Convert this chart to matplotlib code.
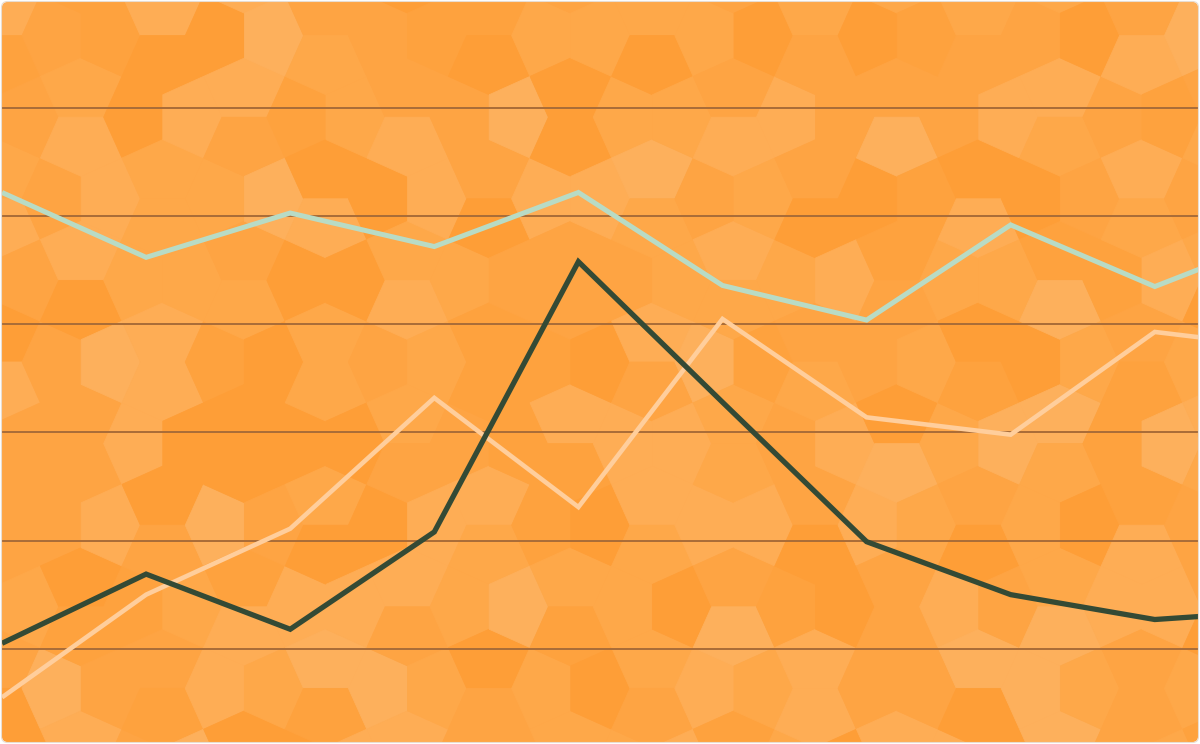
import matplotlib
matplotlib.use("Agg")
import matplotlib.pyplot as plt
from matplotlib.patches import Polygon, FancyBboxPatch

# ---- data ----
x_idx = [0, 1, 2, 3, 4, 5, 6, 7, 8, 9]
teal_vals = [52.2, 46.2, 50.3, 47.2, 52.2, 43.6, 40.4, 49.2, 43.5, 48.7]
dark_vals = [10.5, 16.9, 11.8, 20.8, 45.8, 32.8, 19.9, 15.0, 12.7, 13.6]
light_vals = [5.5, 15.0, 21.1, 33.2, 23.1, 40.5, 31.4, 29.8, 39.3, 37.7]
y_grid = [10, 20, 30, 40, 50, 60]

# ---- figure ----
W, H = 1200, 744
fig = plt.figure(figsize=(W / 100, H / 100), dpi=100)
fig.patch.set_facecolor("white")

bg = fig.add_axes([0, 0, 1, 1])
bg.set_xlim(0, W)
bg.set_ylim(H, 0)
bg.axis("off")

box = FancyBboxPatch((2, 2), W - 4, H - 4,
                     boxstyle="round,pad=0,rounding_size=6",
                     fc="#FEA443", ec="none", transform=bg.transData)
bg.add_patch(box)

# ---- decorative Cairo pentagon background ----
a = 81.6
x0, y0 = 122.0, 158.0
s = 0.275
palette = ["#FE9E37", "#FEA443", "#FEA849", "#FEAD55", "#FDB05C", "#FEA23E"]


def X(i):
    return x0 + a * i


def Y(j):
    return y0 + a * j


def bar(ci, cj):
    cx = x0 + a * (ci + 0.5)
    cy = y0 + a * (cj + 0.5)
    if (ci + cj) % 2 == 0:  # horizontal
        return "h", (cx - s * a, cy), (cx + s * a, cy)
    return "v", (cx, cy - s * a), (cx, cy + s * a)


def shade(i, j, k):
    h = ((i * 374761393 + j * 668265263 + k * 2246822519) ^ 0x5bd1e995) & 0xffffffff
    h = (h ^ (h >> 13)) * 1274126177 & 0xffffffff
    h ^= h >> 16
    r = h % 100
    if r < 16:
        return palette[0]
    if r < 40:
        return palette[1]
    if r < 60:
        return palette[2]
    if r < 78:
        return palette[3]
    if r < 88:
        return palette[4]
    return palette[5]


polys = []
for i in range(-3, 18):
    for j in range(-4, 10):
        # vertical edge (i,j)-(i,j+1)
        A = (X(i), Y(j))
        B = (X(i), Y(j + 1))
        tL, L1, L2 = bar(i - 1, j)
        tR, R1, R2 = bar(i, j)
        if tR == "h":
            pts = [A, R1, B, L2, L1]
        else:
            pts = [A, R1, R2, B, L2]
        polys.append((pts, shade(i, j, 0)))
        # horizontal edge (i,j)-(i+1,j)
        A = (X(i), Y(j))
        B = (X(i + 1), Y(j))
        tU, U1, U2 = bar(i, j - 1)
        tD, D1, D2 = bar(i, j)
        if tD == "v":
            pts = [A, U1, U2, B, D1]
        else:
            pts = [A, U2, B, D2, D1]
        polys.append((pts, shade(i, j, 1)))

for pts, col in polys:
    p = Polygon(pts, closed=True, fc=col, ec=col, lw=0.6)
    p.set_clip_path(box)
    bg.add_patch(p)

# ---- data axes ----
step = 144.1
ax = fig.add_axes([2 / W, 2 / H, (W - 4) / W, (H - 4) / H])
ax.patch.set_alpha(0)
ax.set_xlim(0, (W - 4) / step)
ax.set_ylim(1.37, 69.82)
ax.set_yticks(y_grid)
ax.set_xticks([])
ax.grid(axis="y", color="#A86C38", lw=1.4)
ax.set_axisbelow(True)
ax.tick_params(length=0, labelleft=False, labelbottom=False)
for sp in ax.spines.values():
    sp.set_visible(False)

kw = dict(solid_joinstyle="miter", solid_capstyle="butt")
l1, = ax.plot(x_idx, teal_vals, color="#B8DBC5", lw=3.6, zorder=3, **kw)
l2, = ax.plot(x_idx, light_vals, color="#FFCE9C", lw=3.3, zorder=4, **kw)
l3, = ax.plot(x_idx, dark_vals, color="#344A35", lw=3.8, zorder=5, **kw)
for ln in (l1, l2, l3):
    ln.set_clip_path(box)

border = FancyBboxPatch((1.5, 1.5), W - 3, H - 3,
                        boxstyle="round,pad=0,rounding_size=6",
                        fc="none", ec="#E8DDD2", lw=0.8,
                        transform=bg.transData, zorder=20)
ax.add_artist(border)
border.set_clip_on(False)

fig.savefig("out.png", dpi=100)
